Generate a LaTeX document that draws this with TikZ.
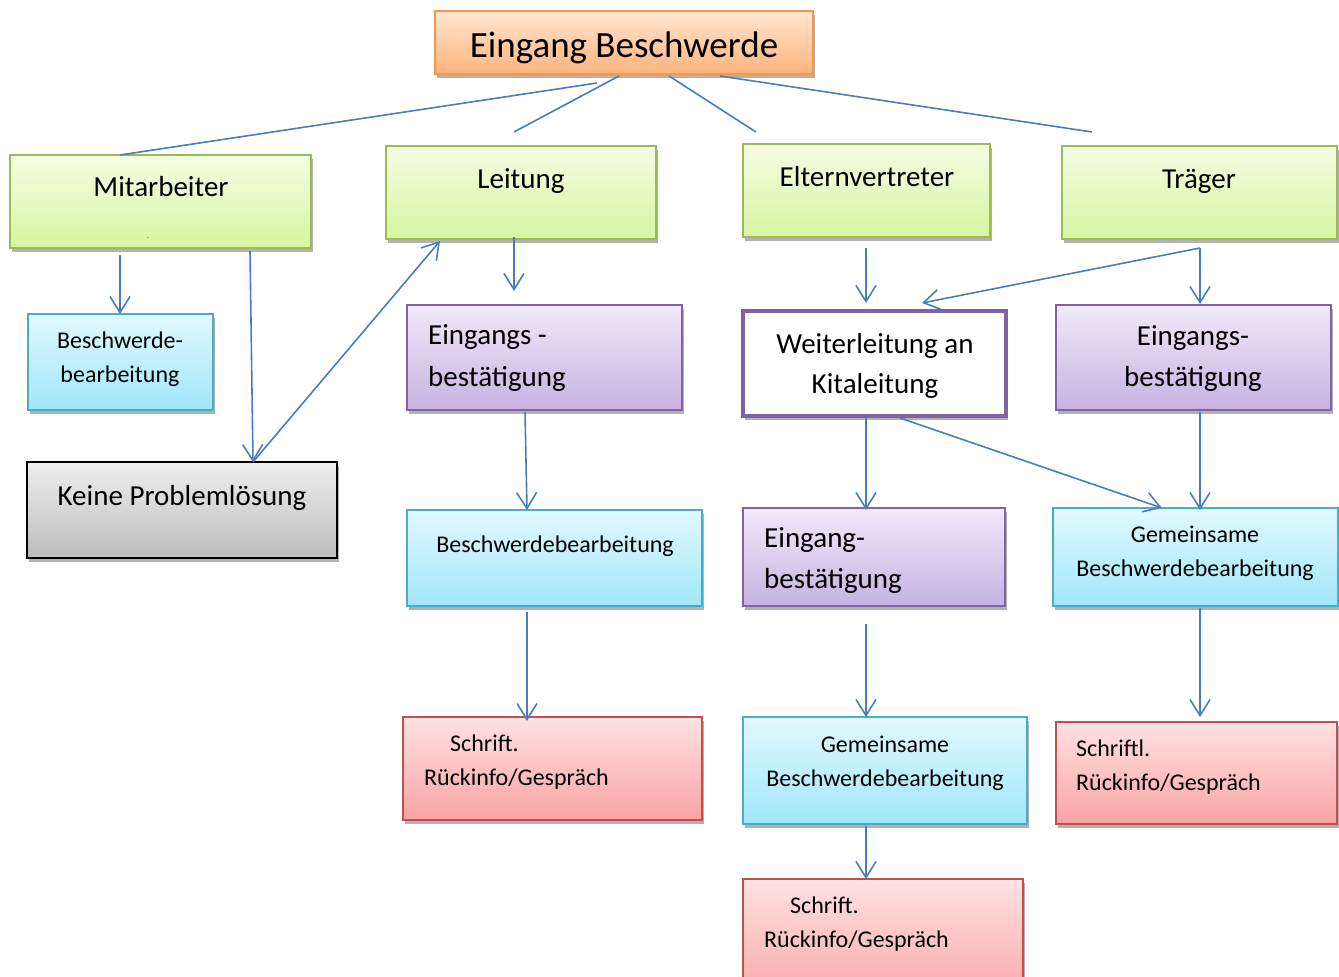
\documentclass[tikz,border=0pt]{standalone}
\usepackage{fontspec}
\setmainfont{Carlito}
\usetikzlibrary{arrows.meta,shadows}
\definecolor{lineblue}{HTML}{4A7EBB}
\definecolor{orB}{HTML}{F79646}\definecolor{orT}{HTML}{FFE6D2}\definecolor{orM}{HTML}{FFB37C}
\definecolor{grB}{HTML}{9BBB59}\definecolor{grT}{HTML}{F4FEE4}\definecolor{grM}{HTML}{D6F5A0}
\definecolor{blB}{HTML}{4BACC6}\definecolor{blT}{HTML}{E2F9FF}\definecolor{blM}{HTML}{A0E6FA}
\definecolor{puB}{HTML}{8064A2}\definecolor{puT}{HTML}{F0EAF8}\definecolor{puM}{HTML}{C6B2E2}
\definecolor{reB}{HTML}{C0504D}\definecolor{reT}{HTML}{FFE2E2}\definecolor{reM}{HTML}{F9A3A3}
\definecolor{gyT}{HTML}{EEEEEE}\definecolor{gyM}{HTML}{BDBDBD}
\tikzset{
  bx/.style={rectangle, inner sep=0pt, outer sep=0pt, line width=1.6pt,
    drop shadow={shadow xshift=2pt, shadow yshift=-4pt, opacity=0.3, fill=black}},
  orbox/.style={bx, draw=orB, top color=orT, bottom color=orM},
  grbox/.style={bx, draw=grB, top color=grT, bottom color=grM},
  blbox/.style={bx, draw=blB, top color=blT, bottom color=blM},
  pubox/.style={bx, draw=puB, top color=puT, bottom color=puM},
  rebox/.style={bx, draw=reB, top color=reT, bottom color=reM},
  gybox/.style={bx, draw=black, top color=gyT, bottom color=gyM},
  whbox/.style={bx, draw=puB, fill=white, line width=4pt},
  big/.style={font=\fontsize{37}{44}\selectfont, inner sep=0pt, anchor=base},
  mid/.style={font=\fontsize{29}{35}\selectfont, inner sep=0pt, anchor=base},
  sml/.style={font=\fontsize{24}{29}\selectfont, inner sep=0pt, anchor=base},
  conn/.style={draw=lineblue, line width=1.6pt},
  arr/.style={conn, -{Straight Barb[length=16pt,width=20pt]}},
}
\newcommand\mybox[6]{\node[#6, minimum width={#4-#2}, minimum height={#5-#3}] (#1) at ({(#2+#4)/2},{(#3+#5)/2}) {};}
\begin{document}
\begin{tikzpicture}[x=1pt,y=-1pt]
\useasboundingbox (0,0) rectangle (1339,977);
\clip (0,0) rectangle (1339,977);
% boxes
\mybox{title}{435}{11}{813}{74}{orbox}
\mybox{mit}{10}{155}{311}{248}{grbox}
\mybox{lei}{386}{146}{656}{239}{grbox}
\mybox{elt}{743}{144}{990}{237}{grbox}
\mybox{tra}{1062}{146}{1337}{239}{grbox}
\mybox{bb1}{28}{314}{213}{410}{blbox}
\mybox{kpl}{27}{462}{337}{558}{gybox}
\mybox{eb1}{407}{305}{682}{410}{pubox}
\mybox{bb2}{407}{510}{702}{606}{blbox}
\mybox{rk1}{403}{717}{702}{820}{rebox}
\mybox{wei}{743}{311}{1006}{416}{whbox}
\mybox{eb3}{1056}{305}{1331}{410}{pubox}
\mybox{eb2}{743}{508}{1005}{606}{pubox}
\mybox{gb2}{1053}{508}{1338}{606}{blbox}
\mybox{gb1}{743}{717}{1027}{824}{blbox}
\mybox{rk3}{1056}{722}{1337}{824}{rebox}
\mybox{rk2}{743}{879}{1023}{1010}{rebox}
% texts
\node[big] (tTitle) at (624,57) {Eingang Beschwerde};
\node[mid] (tMit) at (161,196) {Mitarbeiter};
\node[font=\fontsize{10}{12}\selectfont, text=lineblue] (tDot) at (148,238) {.};
\node[mid] (tLei) at (521,188) {Leitung};
\node[mid] (tElt) at (867,186) {Elternvertreter};
\node[mid] (tTra) at (1199,188) {Träger};
\node[sml] (tBb1a) at (120,348) {Beschwerde-};
\node[sml] (tBb1b) at (120,382) {bearbeitung};
\node[mid] (tKpl) at (182,505) {Keine Problemlösung};
\node[mid, anchor=base west] (tEb1a) at (428,344) {Eingangs -};
\node[mid, anchor=base west] (tEb1b) at (428,386) {bestätigung};
\node[sml] (tBb2) at (555,552) {Beschwerdebearbeitung};
\node[sml, anchor=base west] (tRk1a) at (450,751) {Schrift.};
\node[sml, anchor=base west] (tRk1b) at (424,785) {Rückinfo/Gespräch};
\node[mid] (tWeia) at (875,353) {Weiterleitung an};
\node[mid] (tWeib) at (875,393) {Kitaleitung};
\node[mid] (tEb3a) at (1193,345) {Eingangs-};
\node[mid] (tEb3b) at (1193,386) {bestätigung};
\node[mid, anchor=base west] (tEb2a) at (764,547) {Eingang-};
\node[mid, anchor=base west] (tEb2b) at (764,588) {bestätigung};
\node[sml] (tGb2a) at (1195,542) {Gemeinsame};
\node[sml] (tGb2b) at (1195,576) {Beschwerdebearbeitung};
\node[sml] (tGb1a) at (885,752) {Gemeinsame};
\node[sml] (tGb1b) at (885,786) {Beschwerdebearbeitung};
\node[sml, anchor=base west] (tRk3a) at (1076,756) {Schriftl.};
\node[sml, anchor=base west] (tRk3b) at (1076,790) {Rückinfo/Gespräch};
\node[sml, anchor=base west] (tRk2a) at (790,913) {Schrift.};
\node[sml, anchor=base west] (tRk2b) at (764,947) {Rückinfo/Gespräch};
% connector end points
\coordinate (a1) at (597,83);
\coordinate (m1) at (120,155);
\coordinate (a2) at (619,76);
\coordinate (l0) at (514,132);
\coordinate (a3) at (669,76);
\coordinate (e0) at (756,132);
\coordinate (a4) at (720,76);
\coordinate (t0) at (1092,132);
\coordinate (m2) at (120,255);
\coordinate (b1) at (120,314);
\coordinate (m3) at (250,251);
\coordinate (k1) at (253,462);
\coordinate (l1) at (440,241);
\coordinate (l2) at (514,237);
\coordinate (p1) at (514,291);
\coordinate (p2) at (525,412);
\coordinate (b2) at (527,510);
\coordinate (b3) at (527,612);
\coordinate (r1) at (527,721);
\coordinate (e1) at (866,248);
\coordinate (w1) at (866,303);
\coordinate (t1) at (1200,248);
\coordinate (w2) at (922,303);
\coordinate (p3) at (1200,304);
\coordinate (w3) at (866,418);
\coordinate (q1) at (866,510);
\coordinate (w4) at (900,418);
\coordinate (g1) at (1162,508);
\coordinate (p4) at (1200,412);
\coordinate (g2) at (1200,510);
\coordinate (q2) at (866,624);
\coordinate (g3) at (866,717);
\coordinate (g4) at (1200,608);
\coordinate (r3) at (1200,717);
\coordinate (g5) at (866,826);
\coordinate (r2) at (866,879);
% connectors
\draw[conn] (a1) -- (m1);
\draw[conn] (a2) -- (l0);
\draw[conn] (a3) -- (e0);
\draw[conn] (a4) -- (t0);
\draw[arr] (m2) -- (b1);
\draw[arr] (m3) -- (k1);
\draw[arr] (k1) -- (l1);
\draw[arr] (l2) -- (p1);
\draw[arr] (p2) -- (b2);
\draw[arr] (b3) -- (r1);
\draw[arr] (e1) -- (w1);
\draw[arr] (t1) -- (w2);
\draw[arr] (t1) -- (p3);
\draw[arr] (w3) -- (q1);
\draw[arr] (w4) -- (g1);
\draw[arr] (p4) -- (g2);
\draw[arr] (q2) -- (g3);
\draw[arr] (g4) -- (r3);
\draw[arr] (g5) -- (r2);
\end{tikzpicture}
\end{document}
